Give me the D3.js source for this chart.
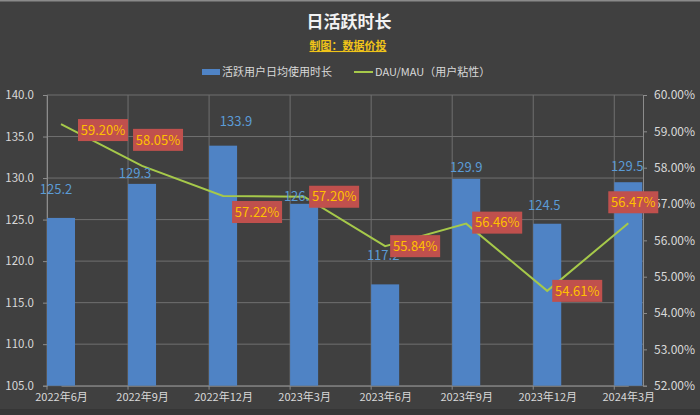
<!DOCTYPE html>
<html><head><meta charset="utf-8">
<script src="https://cdn.jsdelivr.net/npm/d3@7/dist/d3.min.js"></script>
<style>
html,body{margin:0;padding:0;background:#404040;}
svg{display:block;font-family:"Noto Sans CJK SC","Noto Sans",sans-serif;}
</style></head>
<body><svg id="c" width="700" height="415"></svg>
<script>
const categories = ["2022年6月","2022年9月","2022年12月","2023年3月","2023年6月","2023年9月","2023年12月","2024年3月"];
const durationValues = [125.2, 129.3, 133.9, 126.9, 117.2, 129.9, 124.5, 129.5];
const stickinessValues = [59.20, 58.05, 57.22, 57.20, 55.84, 56.46, 54.61, 56.47];
const leftTicks = [105, 110, 115, 120, 125, 130, 135, 140];
const rightTicks = [52, 53, 54, 55, 56, 57, 58, 59, 60];
const title = "日活跃时长";
const subtitle = "制图：数据价投";
const legendNames = ["活跃用户日均使用时长", "DAU/MAU（用户粘性）"];

// layout-only label nudges (pixels)
const barLabelNudge = [[-5,-29],[-7,-11],[13,-24],[-4,-7],[-2,-29],[0,-12],[-3,-18],[-1,-16]];
const pctLabelNudge = [[42,6],[16,-26],[34,16],[30,0],[30,0],[31,-1],[30,0],[5,-21]];

(function(){
const svg = d3.select("#c");
const W = 700, H = 415;
const pLeft = 47, pRight = 643, pTop = 95, pBottom = 385.7;
const step = 81.04, barW = 28;

svg.append("rect").attr("width", W).attr("height", H).attr("fill", "#404040");
svg.append("rect").attr("width", W).attr("height", 1.5).attr("fill", "#8a8a8a");
svg.append("rect").attr("y", 409).attr("width", W).attr("height", 6).attr("fill", "#363636");

const x = d3.scalePoint().domain(categories).range([pLeft + barW/2, pLeft + barW/2 + step*(categories.length-1)]);
const yL = d3.scaleLinear().domain([105, 140]).range([pBottom, pTop]);
const yR = d3.scaleLinear().domain([52, 60]).range([pBottom, pTop]);

// horizontal gridlines
svg.append("g").selectAll("line").data(leftTicks).join("line")
  .attr("x1", pLeft).attr("x2", pRight)
  .attr("y1", d => yL(d)).attr("y2", d => yL(d))
  .attr("stroke", "#6f6f6f").attr("stroke-width", 1);
// vertical gridlines at band starts
svg.append("g").selectAll("line").data(categories).join("line")
  .attr("x1", d => x(d) - barW/2).attr("x2", d => x(d) - barW/2)
  .attr("y1", pTop).attr("y2", pBottom)
  .attr("stroke", "#6f6f6f").attr("stroke-width", 1);

// axes
const axisColor = "#8c8c8c", tickText = "#d9d9d9";
const gL = svg.append("g").attr("transform", `translate(${pLeft},0)`)
  .call(d3.axisLeft(yL).tickValues(leftTicks).tickFormat(d3.format(".1f")).tickSize(4).tickPadding(9));
const gR = svg.append("g").attr("transform", `translate(${pRight},0)`)
  .call(d3.axisRight(yR).tickValues(rightTicks).tickFormat(d => d.toFixed(2) + "%").tickSize(4).tickPadding(7));
const gX = svg.append("g").attr("transform", `translate(0,${pBottom})`)
  .call(d3.axisBottom(x).tickSize(0).tickPadding(8));
[gL, gR, gX].forEach(g => {
  g.select(".domain").attr("stroke", axisColor);
  g.selectAll(".tick line").attr("stroke", axisColor);
  g.selectAll(".tick text").attr("fill", tickText).attr("font-size", 11.5)
   .attr("font-family", "\"Noto Sans CJK SC\",\"Noto Sans\",sans-serif");
});
gR.selectAll(".tick text").attr("font-size", 12);
gX.selectAll(".tick text").attr("font-size", 11);
// x ticks at band starts
svg.append("g").selectAll("line").data(categories).join("line")
  .attr("x1", d => x(d) - barW/2).attr("x2", d => x(d) - barW/2)
  .attr("y1", pBottom).attr("y2", pBottom + 4).attr("stroke", axisColor);

// bars
svg.append("g").selectAll("rect").data(durationValues).join("rect")
  .attr("x", (d,i) => x(categories[i]) - barW/2)
  .attr("width", barW)
  .attr("y", d => yL(d))
  .attr("height", d => pBottom - yL(d))
  .attr("fill", "#4f83c5");

// line
const line = d3.line().x((d,i) => x(categories[i])).y(d => yR(d));
svg.append("path").datum(stickinessValues).attr("d", line)
  .attr("fill", "none").attr("stroke", "#a6c94a").attr("stroke-width", 2);

// bar labels
svg.append("g").selectAll("text").data(durationValues).join("text")
  .attr("x", (d,i) => x(categories[i]) + barLabelNudge[i][0])
  .attr("y", (d,i) => yL(d) + barLabelNudge[i][1])
  .attr("dy", "0.36em").attr("text-anchor", "middle")
  .attr("font-size", 13).attr("fill", "#5b9bd5")
  .text(d => d.toFixed(1));

// percentage labels
const pg = svg.append("g").selectAll("g").data(stickinessValues).join("g")
  .attr("transform", (d,i) => `translate(${x(categories[i]) + pctLabelNudge[i][0]},${yR(d) + pctLabelNudge[i][1]})`);
pg.append("rect").attr("x", -25).attr("y", -11).attr("width", 50).attr("height", 22).attr("fill", "#c0504d");
pg.append("text").attr("text-anchor", "middle").attr("dy", "0.36em")
  .attr("font-size", 13).attr("fill", "#ffc000")
  .text(d => d.toFixed(2) + "%");

// title
svg.append("text").attr("x", 349).attr("y", 22).attr("dy", "0.36em").attr("text-anchor", "middle")
  .attr("font-size", 17).attr("font-weight", "bold").attr("fill", "#f2f2f2").text(title);
svg.append("text").attr("x", 348).attr("y", 46).attr("dy", "0.36em").attr("text-anchor", "middle")
  .attr("font-size", 11).attr("font-weight", "bold").attr("fill", "#f0c419")
  .attr("text-decoration", "underline").text(subtitle);

// legend
const lg = svg.append("g");
lg.append("rect").attr("x", 202).attr("y", 69).attr("width", 18).attr("height", 6).attr("fill", "#4f83c5");
lg.append("text").attr("x", 222).attr("y", 72).attr("dy", "0.36em").attr("font-size", 11).attr("fill", "#d9d9d9").text(legendNames[0]);
lg.append("line").attr("x1", 354).attr("x2", 373).attr("y1", 72).attr("y2", 72).attr("stroke", "#a6c94a").attr("stroke-width", 2);
lg.append("text").attr("x", 375).attr("y", 72).attr("dy", "0.36em").attr("font-size", 11).attr("fill", "#d9d9d9").text(legendNames[1]);
})();
</script></body></html>
